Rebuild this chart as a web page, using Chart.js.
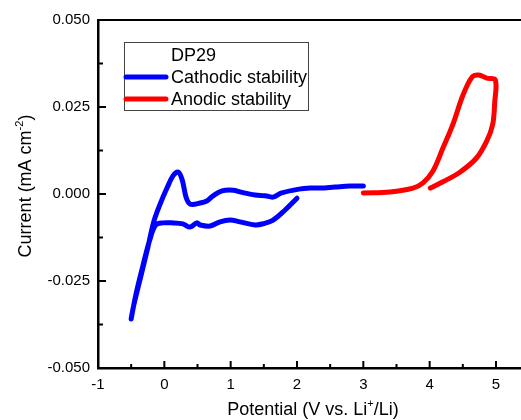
<!DOCTYPE html>
<html>
<head>
<meta charset="utf-8">
<script src="https://cdn.jsdelivr.net/npm/chart.js@4/dist/chart.umd.min.js"></script>
<style>
  html, body { margin: 0; padding: 0; background: #fff; overflow: hidden; }
  canvas { display: block; }
</style>
</head>
<body>
<canvas id="cv" width="521" height="420"></canvas>
<script>
// cathodic scan: start at 2 V, sweep down to -0.5 V, back up to 3 V
const cathodicV = [2.00, 1.82, 1.64, 1.50, 1.37, 1.14, 0.99, 0.84, 0.69, 0.54, 0.49, 0.39, 0.28, 0.13, -0.02, -0.13,
  -0.22, -0.32, -0.43, -0.50, -0.46, -0.35, -0.25, -0.16, -0.07, 0.04, 0.13, 0.21, 0.27, 0.33, 0.39, 0.54, 0.64,
  0.73, 0.87, 1.04, 1.14, 1.37, 1.52, 1.64, 1.77, 2.03, 2.20, 2.35, 2.57, 2.80, 3.00];
const cathodicI = [-0.0012, -0.0046, -0.0075, -0.0085, -0.0089, -0.0080, -0.0075, -0.0080, -0.0092, -0.0089, -0.0083,
  -0.0095, -0.0086, -0.0083, -0.0083, -0.0089, -0.0132, -0.0204, -0.0290, -0.0359, -0.0319, -0.0233, -0.0155,
  -0.0080, -0.0032, 0.0017, 0.0052, 0.0063, 0.0040, -0.0011, -0.0029, -0.0026, -0.0020, -0.0006, 0.0009, 0.0011,
  0.0006, -0.0003, -0.0005, -0.0009, 0.0003, 0.0014, 0.0017, 0.0017, 0.0020, 0.0023, 0.0023];

// anodic scan: 3 V up to 5 V and back to 4 V
const anodicV = [3.00, 3.40, 3.75, 3.90, 4.05, 4.20, 4.35, 4.50, 4.64, 4.74, 4.86, 4.99, 4.98, 4.95, 4.86, 4.70, 4.45, 4.20, 4.01];
const anodicI = [0.0003, 0.0006, 0.0017, 0.0032, 0.0066, 0.0132, 0.0200, 0.0283, 0.0336, 0.0342, 0.0333, 0.0328,
  0.0262, 0.0200, 0.0152, 0.0102, 0.0062, 0.0035, 0.0017];

const xTicks = [-1, 0, 1, 2, 3, 4, 5];
const xMinorTicks = [-0.5, 0.5, 1.5, 2.5, 3.5, 4.5];
const yTicks = [-0.05, -0.025, 0, 0.025, 0.05];
const yMinorTicks = [-0.0375, -0.0125, 0.0125, 0.0375];

const legendTitle = 'DP29';
const seriesNames = ['Cathodic stability', 'Anodic stability'];
const seriesColors = ['#0000ff', '#ff0000'];

const toPts = (xs, ys) => xs.map((x, i) => ({ x: x, y: ys[i] }));

Chart.defaults.font.family = '"Liberation Sans", Arial, sans-serif';
Chart.defaults.color = '#000';

const FONT = '"Liberation Sans", Arial, sans-serif';

// ticks (inward), top border, legend, axis titles with superscripts
const decor = {
  id: 'decor',
  afterDraw(chart) {
    const ctx = chart.ctx;
    const a = chart.chartArea;
    const xs = chart.scales.x, ys = chart.scales.y;
    ctx.save();
    ctx.strokeStyle = '#000';
    ctx.lineWidth = 2;
    // top border
    ctx.beginPath();
    ctx.moveTo(a.left, a.top);
    ctx.lineTo(a.right, a.top);
    ctx.stroke();
    // x ticks
    ctx.beginPath();
    xTicks.forEach(v => { const p = xs.getPixelForValue(v); ctx.moveTo(p, a.bottom); ctx.lineTo(p, a.bottom - 7); });
    xMinorTicks.forEach(v => { const p = xs.getPixelForValue(v); ctx.moveTo(p, a.bottom); ctx.lineTo(p, a.bottom - 4); });
    yTicks.forEach(v => { const p = ys.getPixelForValue(v); ctx.moveTo(a.left, p); ctx.lineTo(a.left + 8, p); });
    yMinorTicks.forEach(v => { const p = ys.getPixelForValue(v); ctx.moveTo(a.left, p); ctx.lineTo(a.left + 5, p); });
    ctx.stroke();

    // legend box
    const bx = 124, by = 42, bw = 184, bh = 68;
    ctx.fillStyle = '#fff';
    ctx.fillRect(bx, by, bw, bh);
    ctx.strokeStyle = '#444';
    ctx.lineWidth = 1;
    ctx.strokeRect(bx + 0.5, by + 0.5, bw, bh);
    ctx.fillStyle = '#000';
    ctx.font = '18px ' + FONT;
    ctx.textBaseline = 'middle';
    ctx.textAlign = 'left';
    ctx.fillText(legendTitle, 171, 56);
    seriesNames.forEach((name, i) => {
      const yy = 77 + i * 22;
      ctx.strokeStyle = seriesColors[i];
      ctx.lineWidth = 5;
      ctx.lineCap = 'round';
      ctx.beginPath();
      ctx.moveTo(126, yy);
      ctx.lineTo(166, yy);
      ctx.stroke();
      ctx.fillText(name, 171, yy + 1);
    });

    // axis titles
    ctx.fillStyle = '#000';
    ctx.textBaseline = 'alphabetic';
    const drawSup = (parts, x, y) => {
      let cx = x;
      parts.forEach(([t, sup]) => {
        ctx.font = (sup ? '11px ' : '18px ') + FONT;
        ctx.fillText(t, cx, sup ? y - 8 : y);
        cx += ctx.measureText(t).width;
      });
      return cx - x;
    };
    const measure = parts => parts.reduce((w, [t, sup]) => {
      ctx.font = (sup ? '11px ' : '18px ') + FONT;
      return w + ctx.measureText(t).width;
    }, 0);

    const xt = [['Potential (V vs. Li', false], ['+', true], ['/Li)', false]];
    const xw = measure(xt);
    drawSup(xt, 313 - xw / 2, 415);

    const yt = [['Current (mA cm', false], ['-2', true], [')', false]];
    const yw = measure(yt);
    ctx.translate(31, 186);
    ctx.rotate(-Math.PI / 2);
    drawSup(yt, -yw / 2, 0);
    ctx.restore();
  }
};

new Chart(document.getElementById('cv'), {
  type: 'scatter',
  data: {
    datasets: [
      { label: seriesNames[0], data: toPts(cathodicV, cathodicI), showLine: true, borderColor: seriesColors[0],
        borderWidth: 5, pointRadius: 0, tension: 0.35, borderCapStyle: 'round', borderJoinStyle: 'round' },
      { label: seriesNames[1], data: toPts(anodicV, anodicI), showLine: true, borderColor: seriesColors[1],
        borderWidth: 5, pointRadius: 0, tension: 0.35, borderCapStyle: 'round', borderJoinStyle: 'round' }
    ]
  },
  options: {
    responsive: false,
    animation: false,
    layout: { padding: { top: 20, left: 0, right: 0, bottom: 0 } },
    plugins: { legend: { display: false }, tooltip: { enabled: false } },
    scales: {
      x: {
        type: 'linear', min: -1, max: 5.377,
        afterBuildTicks: s => { s.ticks = xTicks.map(v => ({ value: v })); },
        afterFit: s => { s.height = 52; },
        grid: { display: false, drawTicks: false },
        border: { display: true, color: '#000', width: 2.5 },
        ticks: { padding: 8, font: { size: 15 }, color: '#000', callback: v => String(v), maxRotation: 0 }
      },
      y: {
        type: 'linear', min: -0.05, max: 0.05,
        afterBuildTicks: s => { s.ticks = yTicks.map(v => ({ value: v })); },
        afterFit: s => { s.width = 98; },
        grid: { display: false, drawTicks: false },
        border: { display: true, color: '#000', width: 2.5 },
        ticks: { padding: 8, font: { size: 15 }, color: '#000', callback: v => Number(v).toFixed(3) }
      }
    }
  },
  plugins: [decor]
});
</script>
</body>
</html>
